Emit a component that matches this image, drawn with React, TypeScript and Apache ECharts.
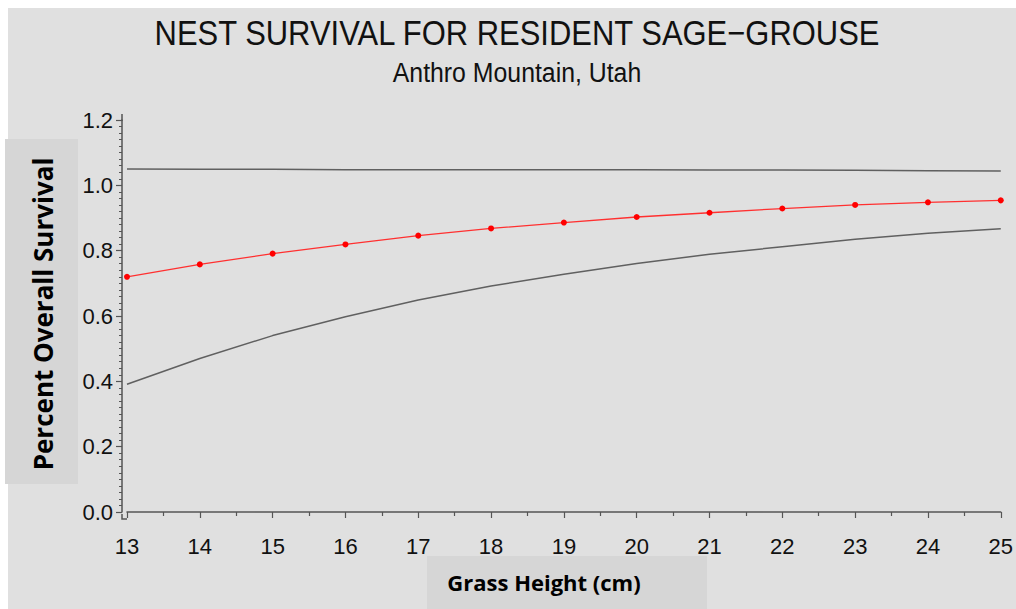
import React, { useEffect, useRef } from "react";
import * as echarts from "echarts";

const grassHeight = [13, 14, 15, 16, 17, 18, 19, 20, 21, 22, 23, 24, 25];
const survivalEstimate = [0.720, 0.758, 0.791, 0.819, 0.846, 0.868, 0.886, 0.903, 0.916, 0.929, 0.940, 0.948, 0.954];
const lowerBound = [0.391, 0.470, 0.540, 0.598, 0.649, 0.692, 0.728, 0.761, 0.789, 0.812, 0.835, 0.853, 0.867];
const upperBound = [1.050, 1.049, 1.049, 1.048, 1.048, 1.048, 1.048, 1.048, 1.047, 1.047, 1.046, 1.045, 1.044];

const titleText = "NEST SURVIVAL FOR RESIDENT SAGE\u2212GROUSE";
const subtitleText = "Anthro Mountain, Utah";
const yTitle = "Percent Overall Survival";
const xTitle = "Grass Height (cm)";

const SANS = "'Liberation Sans', Arial, Helvetica, sans-serif";
const BOLD = "'Open Sans', 'Noto Sans', sans-serif";
const AXIS = "#555555";

export default function App() {
  const ref = useRef<HTMLDivElement>(null);
  useEffect(() => {
    if (!ref.current) return;
    const chart = echarts.init(ref.current, undefined, { renderer: "svg" });
    const pairs = (vals: number[]) => grassHeight.map((x, i) => [x, vals[i]]);
    chart.setOption({
      animation: false,
      backgroundColor: "transparent",
      grid: { left: 127, right: 13, top: 120, bottom: 97, containLabel: false },
      xAxis: {
        type: "value",
        min: 13,
        max: 25,
        interval: 1,
        offset: 7,
        axisLine: { show: true, lineStyle: { color: AXIS, width: 1.5 } },
        axisTick: { show: true, length: 6, lineStyle: { color: AXIS, width: 1.2 } },
        minorTick: { show: true, splitNumber: 2, length: 4, lineStyle: { color: AXIS, width: 1.2 } },
        splitLine: { show: false },
        axisLabel: { color: "#111", fontFamily: SANS, fontSize: 22, margin: 16 },
      },
      yAxis: {
        type: "value",
        min: 0,
        max: 1.2,
        interval: 0.2,
        offset: 5,
        axisLine: { show: true, lineStyle: { color: AXIS, width: 1.5 } },
        axisTick: { show: true, length: 6, lineStyle: { color: AXIS, width: 1.2 } },
        minorTick: { show: true, splitNumber: 10, length: 3, lineStyle: { color: AXIS, width: 1 } },
        splitLine: { show: false },
        axisLabel: {
          color: "#111",
          fontFamily: SANS,
          fontSize: 22,
          margin: 9,
          formatter: (v: number) => v.toFixed(1),
        },
      },
      graphic: [
        {
          type: "rect",
          silent: true,
          shape: { x: 5, y: 139, width: 73, height: 345 },
          style: { fill: "#d6d6d6" },
        },
        {
          type: "rect",
          silent: true,
          shape: { x: 427, y: 556, width: 280, height: 53 },
          style: { fill: "#d6d6d6" },
        },
        {
          type: "polyline",
          silent: true,
          shape: { points: [[122, 514], [122, 519], [127, 519]] },
          style: { stroke: AXIS, lineWidth: 1.5, fill: "none" },
        },
        {
          type: "line",
          silent: true,
          shape: { x1: 122, y1: 114, x2: 122, y2: 121 },
          style: { stroke: AXIS, lineWidth: 1.5 },
        },
        {
          type: "text",
          x: 517,
          y: 33,
          scaleX: 0.86,
          style: {
            text: titleText,
            fontFamily: SANS,
            fontSize: 36,
            fill: "#111",
            align: "center",
            verticalAlign: "middle",
          },
        },
        {
          type: "text",
          x: 517,
          y: 73,
          scaleX: 0.92,
          style: {
            text: subtitleText,
            fontFamily: SANS,
            fontSize: 27,
            fill: "#111",
            align: "center",
            verticalAlign: "middle",
          },
        },
        {
          type: "text",
          x: 43,
          y: 314,
          rotation: Math.PI / 2,
          style: {
            text: yTitle,
            fontFamily: BOLD,
            fontWeight: "bold",
            fontSize: 26,
            fill: "#000",
            align: "center",
            verticalAlign: "middle",
          },
        },
        {
          type: "text",
          x: 544,
          y: 582,
          style: {
            text: xTitle,
            fontFamily: BOLD,
            fontWeight: "bold",
            fontSize: 22,
            fill: "#000",
            align: "center",
            verticalAlign: "middle",
          },
        },
      ],
      series: [
        {
          name: "Upper",
          type: "line",
          data: pairs(upperBound),
          showSymbol: false,
          symbol: "none",
          lineStyle: { color: "#606060", width: 1.5 },
          z: 3,
        },
        {
          name: "Estimate",
          type: "line",
          data: pairs(survivalEstimate),
          symbol: "circle",
          symbolSize: 6,
          itemStyle: { color: "#ff0000" },
          lineStyle: { color: "#ff3030", width: 1.3 },
          z: 4,
        },
        {
          name: "Lower",
          type: "line",
          data: pairs(lowerBound),
          showSymbol: false,
          symbol: "none",
          lineStyle: { color: "#606060", width: 1.5 },
          z: 3,
        },
      ],
    });
    return () => chart.dispose();
  }, []);

  return (
    <div style={{ position: "absolute", left: 0, top: 0, width: 1016, height: 609, background: "#ffffff" }}>
      <div style={{ position: "absolute", left: 8, top: 8, width: 1008, height: 601, background: "#e0e0e0" }} />
      <div ref={ref} style={{ position: "absolute", left: 0, top: 0, width: 1016, height: 609 }} />
    </div>
  );
}
